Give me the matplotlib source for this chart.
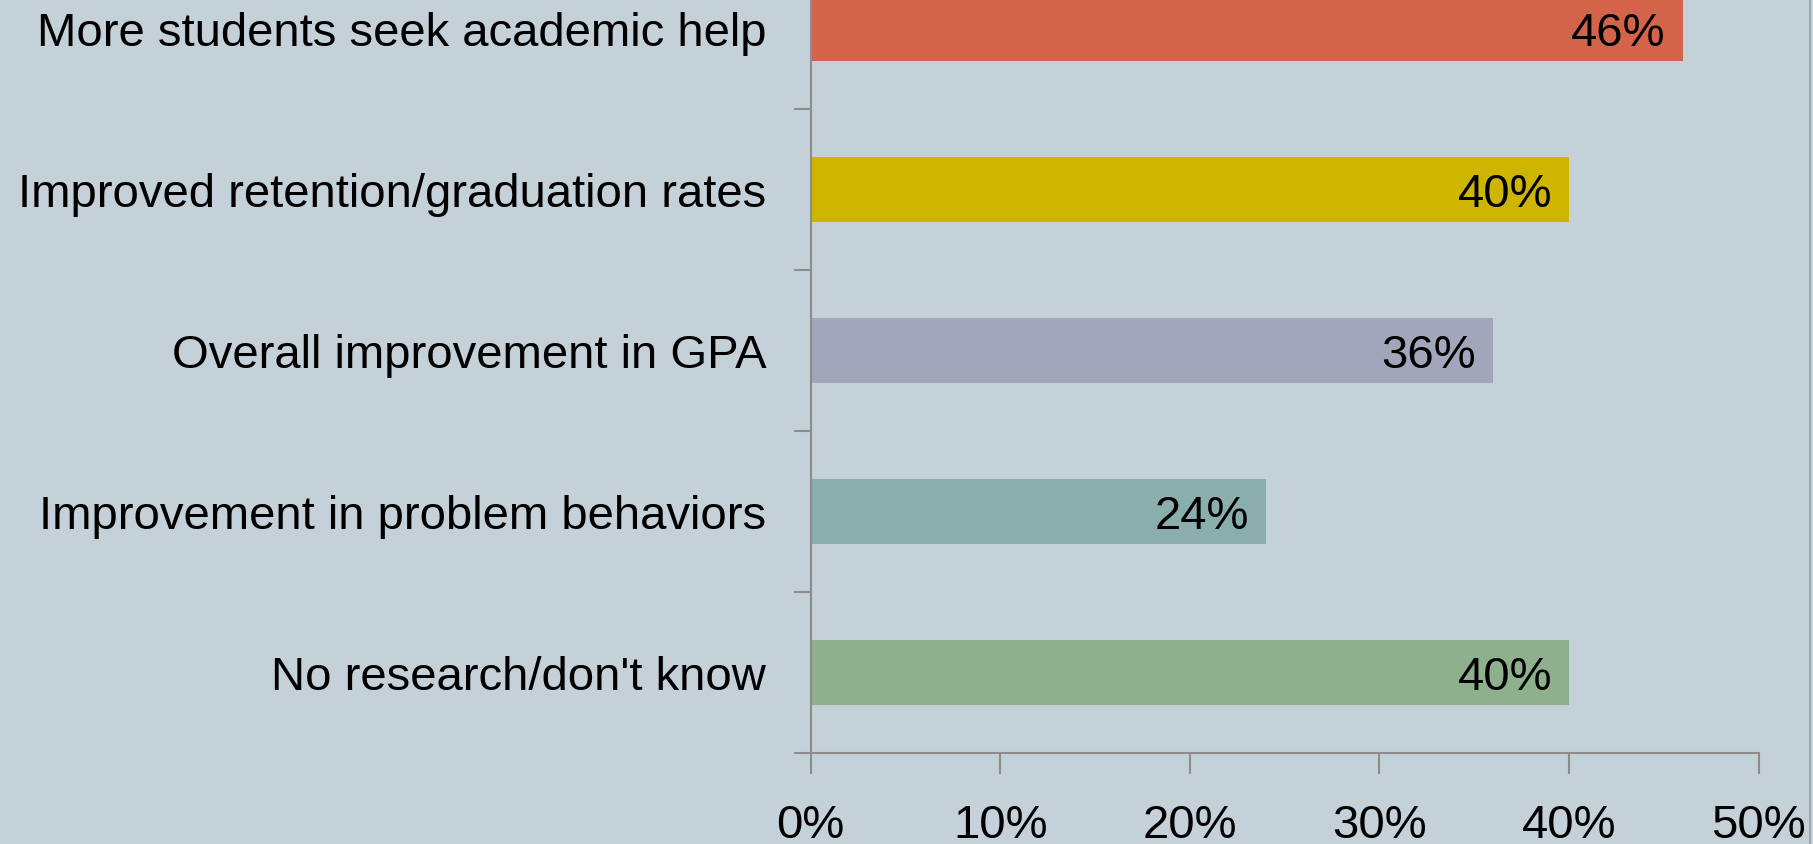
import matplotlib
matplotlib.use("Agg")
import matplotlib.pyplot as plt
import numpy as np

# data, top to bottom as in the picture
categories = [
    "More students seek academic help",
    "Improved retention/graduation rates",
    "Overall improvement in GPA",
    "Improvement in problem behaviors",
    "No research/don't know",
]
values = [46, 40, 36, 24, 40]
bar_colors = ["#D3644A", "#CEB500", "#A2A6BA", "#8AADAD", "#8FB08D"]
x_ticks = [0, 10, 20, 30, 40, 50]

bg = "#C5D1D8"
axis_grey = "#8C8C8C"

plt.rcParams['font.family'] = ['Liberation Sans', 'DejaVu Sans']

fig = plt.figure(figsize=(18.13, 8.45), dpi=100, facecolor=bg)
ax = fig.add_axes([0.4471, 0.1077, 0.5229, 0.9527])
ax.set_facecolor(bg)

y = np.arange(len(categories))[::-1]
ax.barh(y, values, height=0.4, color=bar_colors, zorder=2)

for yi, v in zip(y, values):
    ax.text(v - 0.9, yi - 0.03, "{}%".format(v), ha='right', va='center', fontsize=34, color='black', zorder=3)

ax.set_xlim(0, 50)
ax.set_ylim(-0.5, len(categories) - 0.5)

ax.set_xticks(x_ticks)
ax.set_xticklabels(["{}%".format(t) for t in x_ticks], fontsize=34)
ax.set_yticks(y)
ax.set_yticklabels(categories, fontsize=34)
ax.set_yticks(np.arange(len(categories) + 1) - 0.5, minor=True)

ax.tick_params(axis='y', which='major', length=0, pad=32)
ax.tick_params(axis='y', which='minor', length=12, width=1.5, color=axis_grey, direction='out')
ax.tick_params(axis='x', which='major', length=15, width=1.5, color=axis_grey, direction='out', pad=21)

for side in ['top', 'right']:
    ax.spines[side].set_visible(False)
for side in ['left', 'bottom']:
    ax.spines[side].set_color(axis_grey)
    ax.spines[side].set_linewidth(1.5)

# thin frame line at the right edge
fig.add_artist(plt.Line2D([0.9985, 0.9985], [0, 1], color="#9AA7AE", linewidth=1.5, transform=fig.transFigure))

fig.savefig("out.png", dpi=100, facecolor=bg)
